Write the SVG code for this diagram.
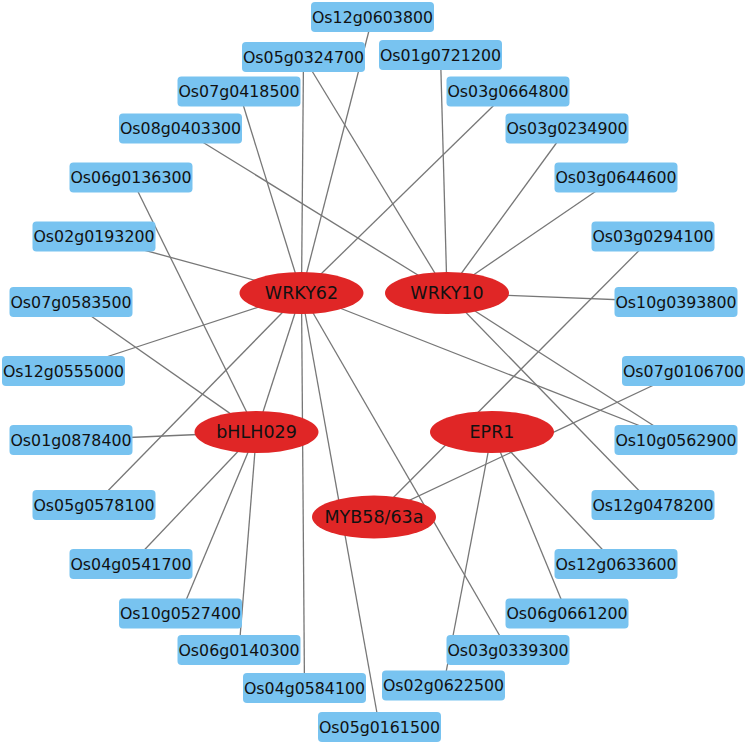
<svg xmlns="http://www.w3.org/2000/svg" width="747" height="744" viewBox="0 0 747 744">
<style>
.g rect{fill:#78C3F0;stroke:none}
.g text{font-family:"DejaVu Sans",Verdana,sans-serif;font-size:15.8px;fill:#111;text-anchor:middle}
.h ellipse{fill:#E02626}
.h text{font-family:"DejaVu Sans",Verdana,sans-serif;font-size:17.5px;fill:#111;text-anchor:middle}
#edges line{stroke:#777;stroke-width:1.3}
</style>
<rect width="747" height="744" fill="#fff"/>
<g id="edges">
<line x1="372.5" y1="17" x2="301.5" y2="293"/>
<line x1="303.5" y1="57" x2="301.5" y2="293"/>
<line x1="303.5" y1="57" x2="447" y2="293"/>
<line x1="239" y1="91.5" x2="301.5" y2="293"/>
<line x1="180.5" y1="128.5" x2="447" y2="293"/>
<line x1="440.5" y1="55" x2="447" y2="293"/>
<line x1="508" y1="91.5" x2="301.5" y2="293"/>
<line x1="567" y1="128.5" x2="447" y2="293"/>
<line x1="616" y1="177.5" x2="447" y2="293"/>
<line x1="131" y1="177.5" x2="256.5" y2="432"/>
<line x1="94" y1="236.5" x2="301.5" y2="293"/>
<line x1="653" y1="236.5" x2="374" y2="517"/>
<line x1="676" y1="302" x2="447" y2="293"/>
<line x1="71" y1="302" x2="256.5" y2="432"/>
<line x1="63.5" y1="371" x2="301.5" y2="293"/>
<line x1="683.5" y1="371" x2="374" y2="517"/>
<line x1="71" y1="440" x2="256.5" y2="432"/>
<line x1="676" y1="440" x2="301.5" y2="293"/>
<line x1="676" y1="440" x2="447" y2="293"/>
<line x1="94" y1="505" x2="301.5" y2="293"/>
<line x1="653" y1="505" x2="447" y2="293"/>
<line x1="131" y1="564" x2="256.5" y2="432"/>
<line x1="616" y1="564" x2="492" y2="432"/>
<line x1="180.5" y1="613.5" x2="256.5" y2="432"/>
<line x1="567" y1="613.5" x2="492" y2="432"/>
<line x1="239" y1="650" x2="256.5" y2="432"/>
<line x1="508" y1="650" x2="301.5" y2="293"/>
<line x1="304.5" y1="688" x2="301.5" y2="293"/>
<line x1="443.5" y1="685.5" x2="492" y2="432"/>
<line x1="379.5" y1="727" x2="301.5" y2="293"/>
<line x1="301.5" y1="293" x2="256.5" y2="432"/>
</g>
<g id="Os12g0603800" class="g"><rect x="311" y="2" width="123" height="30" rx="4"/><text x="372.5" y="22.5">Os12g0603800</text></g>
<g id="Os05g0324700" class="g"><rect x="242" y="42" width="123" height="30" rx="4"/><text x="303.5" y="62.5">Os05g0324700</text></g>
<g id="Os01g0721200" class="g"><rect x="379" y="40" width="123" height="30" rx="4"/><text x="440.5" y="60.5">Os01g0721200</text></g>
<g id="Os07g0418500" class="g"><rect x="177.5" y="76.5" width="123" height="30" rx="4"/><text x="239" y="97">Os07g0418500</text></g>
<g id="Os03g0664800" class="g"><rect x="446.5" y="76.5" width="123" height="30" rx="4"/><text x="508" y="97">Os03g0664800</text></g>
<g id="Os08g0403300" class="g"><rect x="119" y="113.5" width="123" height="30" rx="4"/><text x="180.5" y="134">Os08g0403300</text></g>
<g id="Os03g0234900" class="g"><rect x="505.5" y="113.5" width="123" height="30" rx="4"/><text x="567" y="134">Os03g0234900</text></g>
<g id="Os06g0136300" class="g"><rect x="69.5" y="162.5" width="123" height="30" rx="4"/><text x="131" y="183">Os06g0136300</text></g>
<g id="Os03g0644600" class="g"><rect x="554.5" y="162.5" width="123" height="30" rx="4"/><text x="616" y="183">Os03g0644600</text></g>
<g id="Os02g0193200" class="g"><rect x="32.5" y="221.5" width="123" height="30" rx="4"/><text x="94" y="242">Os02g0193200</text></g>
<g id="Os03g0294100" class="g"><rect x="591.5" y="221.5" width="123" height="30" rx="4"/><text x="653" y="242">Os03g0294100</text></g>
<g id="Os07g0583500" class="g"><rect x="9.5" y="287" width="123" height="30" rx="4"/><text x="71" y="307.5">Os07g0583500</text></g>
<g id="Os10g0393800" class="g"><rect x="614.5" y="287" width="123" height="30" rx="4"/><text x="676" y="307.5">Os10g0393800</text></g>
<g id="Os12g0555000" class="g"><rect x="2" y="356" width="123" height="30" rx="4"/><text x="63.5" y="376.5">Os12g0555000</text></g>
<g id="Os07g0106700" class="g"><rect x="622" y="356" width="123" height="30" rx="4"/><text x="683.5" y="376.5">Os07g0106700</text></g>
<g id="Os01g0878400" class="g"><rect x="9.5" y="425" width="123" height="30" rx="4"/><text x="71" y="445.5">Os01g0878400</text></g>
<g id="Os10g0562900" class="g"><rect x="614.5" y="425" width="123" height="30" rx="4"/><text x="676" y="445.5">Os10g0562900</text></g>
<g id="Os05g0578100" class="g"><rect x="32.5" y="490" width="123" height="30" rx="4"/><text x="94" y="510.5">Os05g0578100</text></g>
<g id="Os12g0478200" class="g"><rect x="591.5" y="490" width="123" height="30" rx="4"/><text x="653" y="510.5">Os12g0478200</text></g>
<g id="Os04g0541700" class="g"><rect x="69.5" y="549" width="123" height="30" rx="4"/><text x="131" y="569.5">Os04g0541700</text></g>
<g id="Os12g0633600" class="g"><rect x="554.5" y="549" width="123" height="30" rx="4"/><text x="616" y="569.5">Os12g0633600</text></g>
<g id="Os10g0527400" class="g"><rect x="119" y="598.5" width="123" height="30" rx="4"/><text x="180.5" y="619">Os10g0527400</text></g>
<g id="Os06g0661200" class="g"><rect x="505.5" y="598.5" width="123" height="30" rx="4"/><text x="567" y="619">Os06g0661200</text></g>
<g id="Os06g0140300" class="g"><rect x="177.5" y="635" width="123" height="30" rx="4"/><text x="239" y="655.5">Os06g0140300</text></g>
<g id="Os03g0339300" class="g"><rect x="446.5" y="635" width="123" height="30" rx="4"/><text x="508" y="655.5">Os03g0339300</text></g>
<g id="Os04g0584100" class="g"><rect x="243" y="673" width="123" height="30" rx="4"/><text x="304.5" y="693.5">Os04g0584100</text></g>
<g id="Os02g0622500" class="g"><rect x="382" y="670.5" width="123" height="30" rx="4"/><text x="443.5" y="691">Os02g0622500</text></g>
<g id="Os05g0161500" class="g"><rect x="318" y="712" width="123" height="30" rx="4"/><text x="379.5" y="732.5">Os05g0161500</text></g>
<g id="WRKY62" class="h"><ellipse cx="301.5" cy="293" rx="62" ry="21"/><text x="301.5" y="299">WRKY62</text></g>
<g id="WRKY10" class="h"><ellipse cx="447" cy="293" rx="62" ry="21"/><text x="447" y="299">WRKY10</text></g>
<g id="bHLH029" class="h"><ellipse cx="256.5" cy="432" rx="62" ry="21"/><text x="256.5" y="438">bHLH029</text></g>
<g id="EPR1" class="h"><ellipse cx="492" cy="432" rx="62" ry="21"/><text x="492" y="438">EPR1</text></g>
<g id="MYB58_63a" class="h"><ellipse cx="374" cy="517" rx="62" ry="21.5"/><text x="374" y="523">MYB58/63a</text></g>
</svg>
